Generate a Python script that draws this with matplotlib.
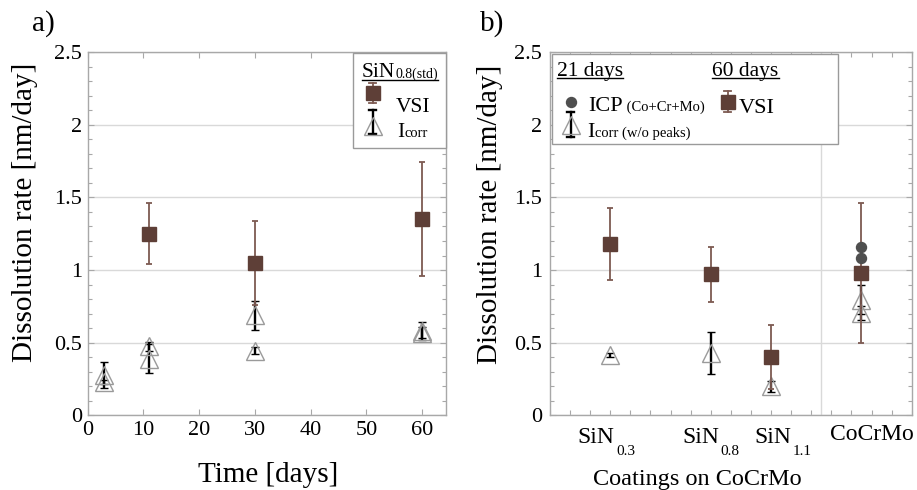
import matplotlib
matplotlib.use("Agg")
import matplotlib.pyplot as plt
from matplotlib.lines import Line2D
from matplotlib.patches import Rectangle
from matplotlib.ticker import MultipleLocator, FuncFormatter

plt.rcParams['font.family'] = ['Liberation Serif', 'DejaVu Serif']
plt.rcParams['mathtext.fontset'] = 'custom'
plt.rcParams['mathtext.rm'] = 'Liberation Serif'

# ---------------- data ----------------
# panel a: SiN0.8(std) vs time
days_vsi = [11, 30, 60]
vsi_a = [1.25, 1.05, 1.35]
vsi_a_err = [0.21, 0.29, 0.39]

days_icorr = [3, 11, 30, 60]
icorr_a1 = [0.28, 0.475, 0.69, 0.58]
icorr_a1_err = [0.09, 0.03, 0.10, 0.06]
icorr_a2 = [0.23, 0.39, 0.445, 0.57]
icorr_a2_err = [0.015, 0.10, 0.025, 0.035]

# panel b: coatings
coating_names = ['SiN', 'SiN', 'SiN', 'CoCrMo']
coating_subs = ['0.3', '0.8', '1.1', '']
coating_pos = [3, 8, 11, 15.5]
vsi_b = [1.18, 0.97, 0.40, 0.98]
vsi_b_err = [0.25, 0.19, 0.22, 0.48]
icorr_b1 = [0.415, 0.43, 0.20, 0.795]
icorr_b1_err = [0.012, 0.147, 0.04, 0.10]
icorr_cocrmo2 = [0.705]
icorr_cocrmo2_err = [0.05]
icp_cocrmo = [1.16, 1.08]

# ---------------- style ----------------
W, H = 917, 490
BROWN = '#5e3f37'
EBROWN = '#7d5a52'
GRAYDOT = '#4f4f4f'
TRI = '#9a9a9a'
SPINE = '#a8a8a8'
GRID = '#d9d9d9'

fig = plt.figure(figsize=(W / 100, H / 100), dpi=100)


def fx(px):
    return px / W


def fy(py):
    return 1 - py / H


axa = fig.add_axes([fx(87.7), fy(415.4), (446 - 87.7) / W, (415.4 - 52) / H])
axb = fig.add_axes([fx(550), fy(415.4), (911.7 - 550) / W, (415.4 - 52) / H])

for ax in (axa, axb):
    ax.set_ylim(0, 2.5)
    ax.yaxis.set_major_locator(MultipleLocator(0.5))
    ax.yaxis.set_minor_locator(MultipleLocator(0.1))
    ax.yaxis.set_major_formatter(FuncFormatter(lambda v, p: '%g' % v))
    for s in ax.spines.values():
        s.set_color(SPINE)
        s.set_linewidth(1.0)
    ax.tick_params(which='both', direction='in', colors=SPINE, labelcolor='black',
                   top=True, right=True, labelsize=16)
    ax.tick_params(which='major', length=4.5, width=0.8)
    ax.tick_params(which='minor', length=2.8, width=0.8)
    ax.grid(axis='y', which='major', color=GRID, lw=1.0, zorder=0)
    ax.set_axisbelow(True)

axa.tick_params(axis='y', pad=4)
axb.tick_params(axis='y', pad=5.5)

# panel a
axa.set_xlim(0, 64.3)
axa.xaxis.set_major_locator(MultipleLocator(10))
axa.tick_params(axis='x', pad=4)

tri_kw = dict(fmt='^', ms=13, mfc='none', mec=TRI, mew=1.0, ecolor='black',
              elinewidth=1.7, capsize=2.6, capthick=1.7, zorder=3)
vsi_kw = dict(fmt='s', ms=9.8, mfc=BROWN, mec=BROWN, ecolor=EBROWN,
              elinewidth=1.3, capsize=2.4, capthick=1.3, zorder=4)

axa.errorbar(days_icorr, icorr_a1, yerr=icorr_a1_err, **tri_kw)
axa.errorbar(days_icorr, icorr_a2, yerr=icorr_a2_err, **tri_kw)
axa.errorbar(days_vsi, vsi_a, yerr=vsi_a_err, **vsi_kw)

# panel b
axb.set_xlim(0, 18)
axb.xaxis.set_major_locator(MultipleLocator(1))
axb.tick_params(axis='x', which='major', length=3.5, labelbottom=False)
axb.axvline(13.5, color=GRID, lw=1.0, zorder=0)

axb.errorbar(coating_pos, icorr_b1, yerr=icorr_b1_err, **tri_kw)
axb.errorbar([coating_pos[3]] * len(icorr_cocrmo2), icorr_cocrmo2,
             yerr=icorr_cocrmo2_err, **tri_kw)
axb.errorbar(coating_pos, vsi_b, yerr=vsi_b_err, **vsi_kw)
axb.plot([coating_pos[3]] * len(icp_cocrmo), icp_cocrmo, 'o', ms=7.2,
         color=GRAYDOT, zorder=5)

# category labels (manual placement like the reference)
label_dx = [4, 8, 20, 10]  # pixel offsets of the label block from tick
xt = axb.get_xaxis_transform()
for name, sub, pos, dx in zip(coating_names, coating_subs, coating_pos, label_dx):
    if sub:
        axb.annotate(name, xy=(pos, 0), xycoords=xt, xytext=(dx * 0.72, -19.9),
                     textcoords='offset points', ha='right', va='baseline', fontsize=17)
        axb.annotate(sub, xy=(pos, 0), xycoords=xt, xytext=(dx * 0.72 + 1.5, -28.5),
                     textcoords='offset points', ha='left', va='baseline', fontsize=11)
    else:
        axb.annotate(name, xy=(pos, 0), xycoords=xt, xytext=(dx * 0.72, -17.7),
                     textcoords='offset points', ha='center', va='baseline', fontsize=17)

# axis labels
fig.text(fx(25), fy(212), 'Dissolution rate [nm/day]', rotation=90, ha='center',
         va='center', fontsize=21)
fig.text(fx(490), fy(214), 'Dissolution rate [nm/day]', rotation=90, ha='center',
         va='center', fontsize=21)
fig.text(fx(268), fy(482), 'Time [days]', ha='center', va='baseline', fontsize=21)
fig.text(fx(697.5), fy(485), 'Coatings on CoCrMo', ha='center', va='baseline', fontsize=17.5)
fig.text(fx(32), fy(31), 'a)', ha='left', va='baseline', fontsize=21)
fig.text(fx(480), fy(31), 'b)', ha='left', va='baseline', fontsize=21)

# ---------------- legends ----------------
renderer = fig.canvas.get_renderer()


def seq_text(x, y, pieces, dy=None):
    if dy is None:
        dy = [0] * len(pieces)
    for (s, size), d in zip(pieces, dy):
        t = fig.text(fx(x), fy(y + d), s, fontsize=size, ha='left', va='baseline', zorder=20)
        bb = t.get_window_extent(renderer)
        x = bb.x1
    return x


def underline(x0, x1, y):
    fig.add_artist(Line2D([fx(x0), fx(x1)], [fy(y), fy(y)], transform=fig.transFigure,
                          color='black', lw=1.0, zorder=20))


def icon(x, ytop, ybot, ymark, marker, ms, mfc, mec, ecolor, elw, cap=3.5):
    kw = dict(transform=fig.transFigure, zorder=21)
    fig.add_artist(Line2D([fx(x), fx(x)], [fy(ytop), fy(ybot)], color=ecolor, lw=elw, **kw))
    for yy in (ytop, ybot):
        fig.add_artist(Line2D([fx(x - cap), fx(x + cap)], [fy(yy), fy(yy)],
                              color=ecolor, lw=elw, **kw))
    fig.add_artist(Line2D([fx(x)], [fy(ymark)], marker=marker, ms=ms, mfc=mfc, mec=mec,
                          mew=1.0, ls='none', **kw))


def box(x0, y0, x1, y1):
    fig.add_artist(Rectangle((fx(x0), fy(y1)), fx(x1) - fx(x0), fy(y0) - fy(y1),
                             transform=fig.transFigure, facecolor='white',
                             edgecolor='#9a9a9a', lw=1.0, zorder=19))


# legend a
box(352.7, 53, 446, 148)
xe = seq_text(362, 77, [('SiN', 15.5), ('0.8(std)', 10)], dy=[0, 1])
underline(362, xe, 79.5)
icon(372.5, 83, 103.5, 93.5, 's', 9.5, BROWN, BROWN, EBROWN, 1.3)
seq_text(396, 112.5, [('VSI', 15.5)])
icon(372.5, 110, 133.5, 126, '^', 13, 'none', TRI, 'black', 1.7)
seq_text(397, 136.7, [('I', 15.5), ('corr', 10.5)])

# legend b
box(552, 54, 838, 144)
xe = seq_text(557.3, 76, [('21 days', 15.5)])
underline(557.3, xe, 78.5)
xe = seq_text(712.3, 76, [('60 days', 15.5)])
underline(712.3, xe, 78.5)
fig.add_artist(Line2D([fx(570.7)], [fy(101.7)], marker='o', ms=7.2, color=GRAYDOT,
                      ls='none', transform=fig.transFigure, zorder=21))
seq_text(588.3, 111, [('ICP', 16), (' (Co+Cr+Mo)', 10.5)])
icon(570.7, 111.7, 136.7, 125, '^', 13, 'none', TRI, 'black', 1.7)
seq_text(587.7, 136.7, [('I', 16), ('corr (w/o peaks)', 10.5)])
icon(727.7, 90.7, 111.7, 102.2, 's', 9.5, BROWN, BROWN, EBROWN, 1.3)
seq_text(738.3, 112.7, [('VSI', 16)])

fig.savefig('out.png', dpi=100)
